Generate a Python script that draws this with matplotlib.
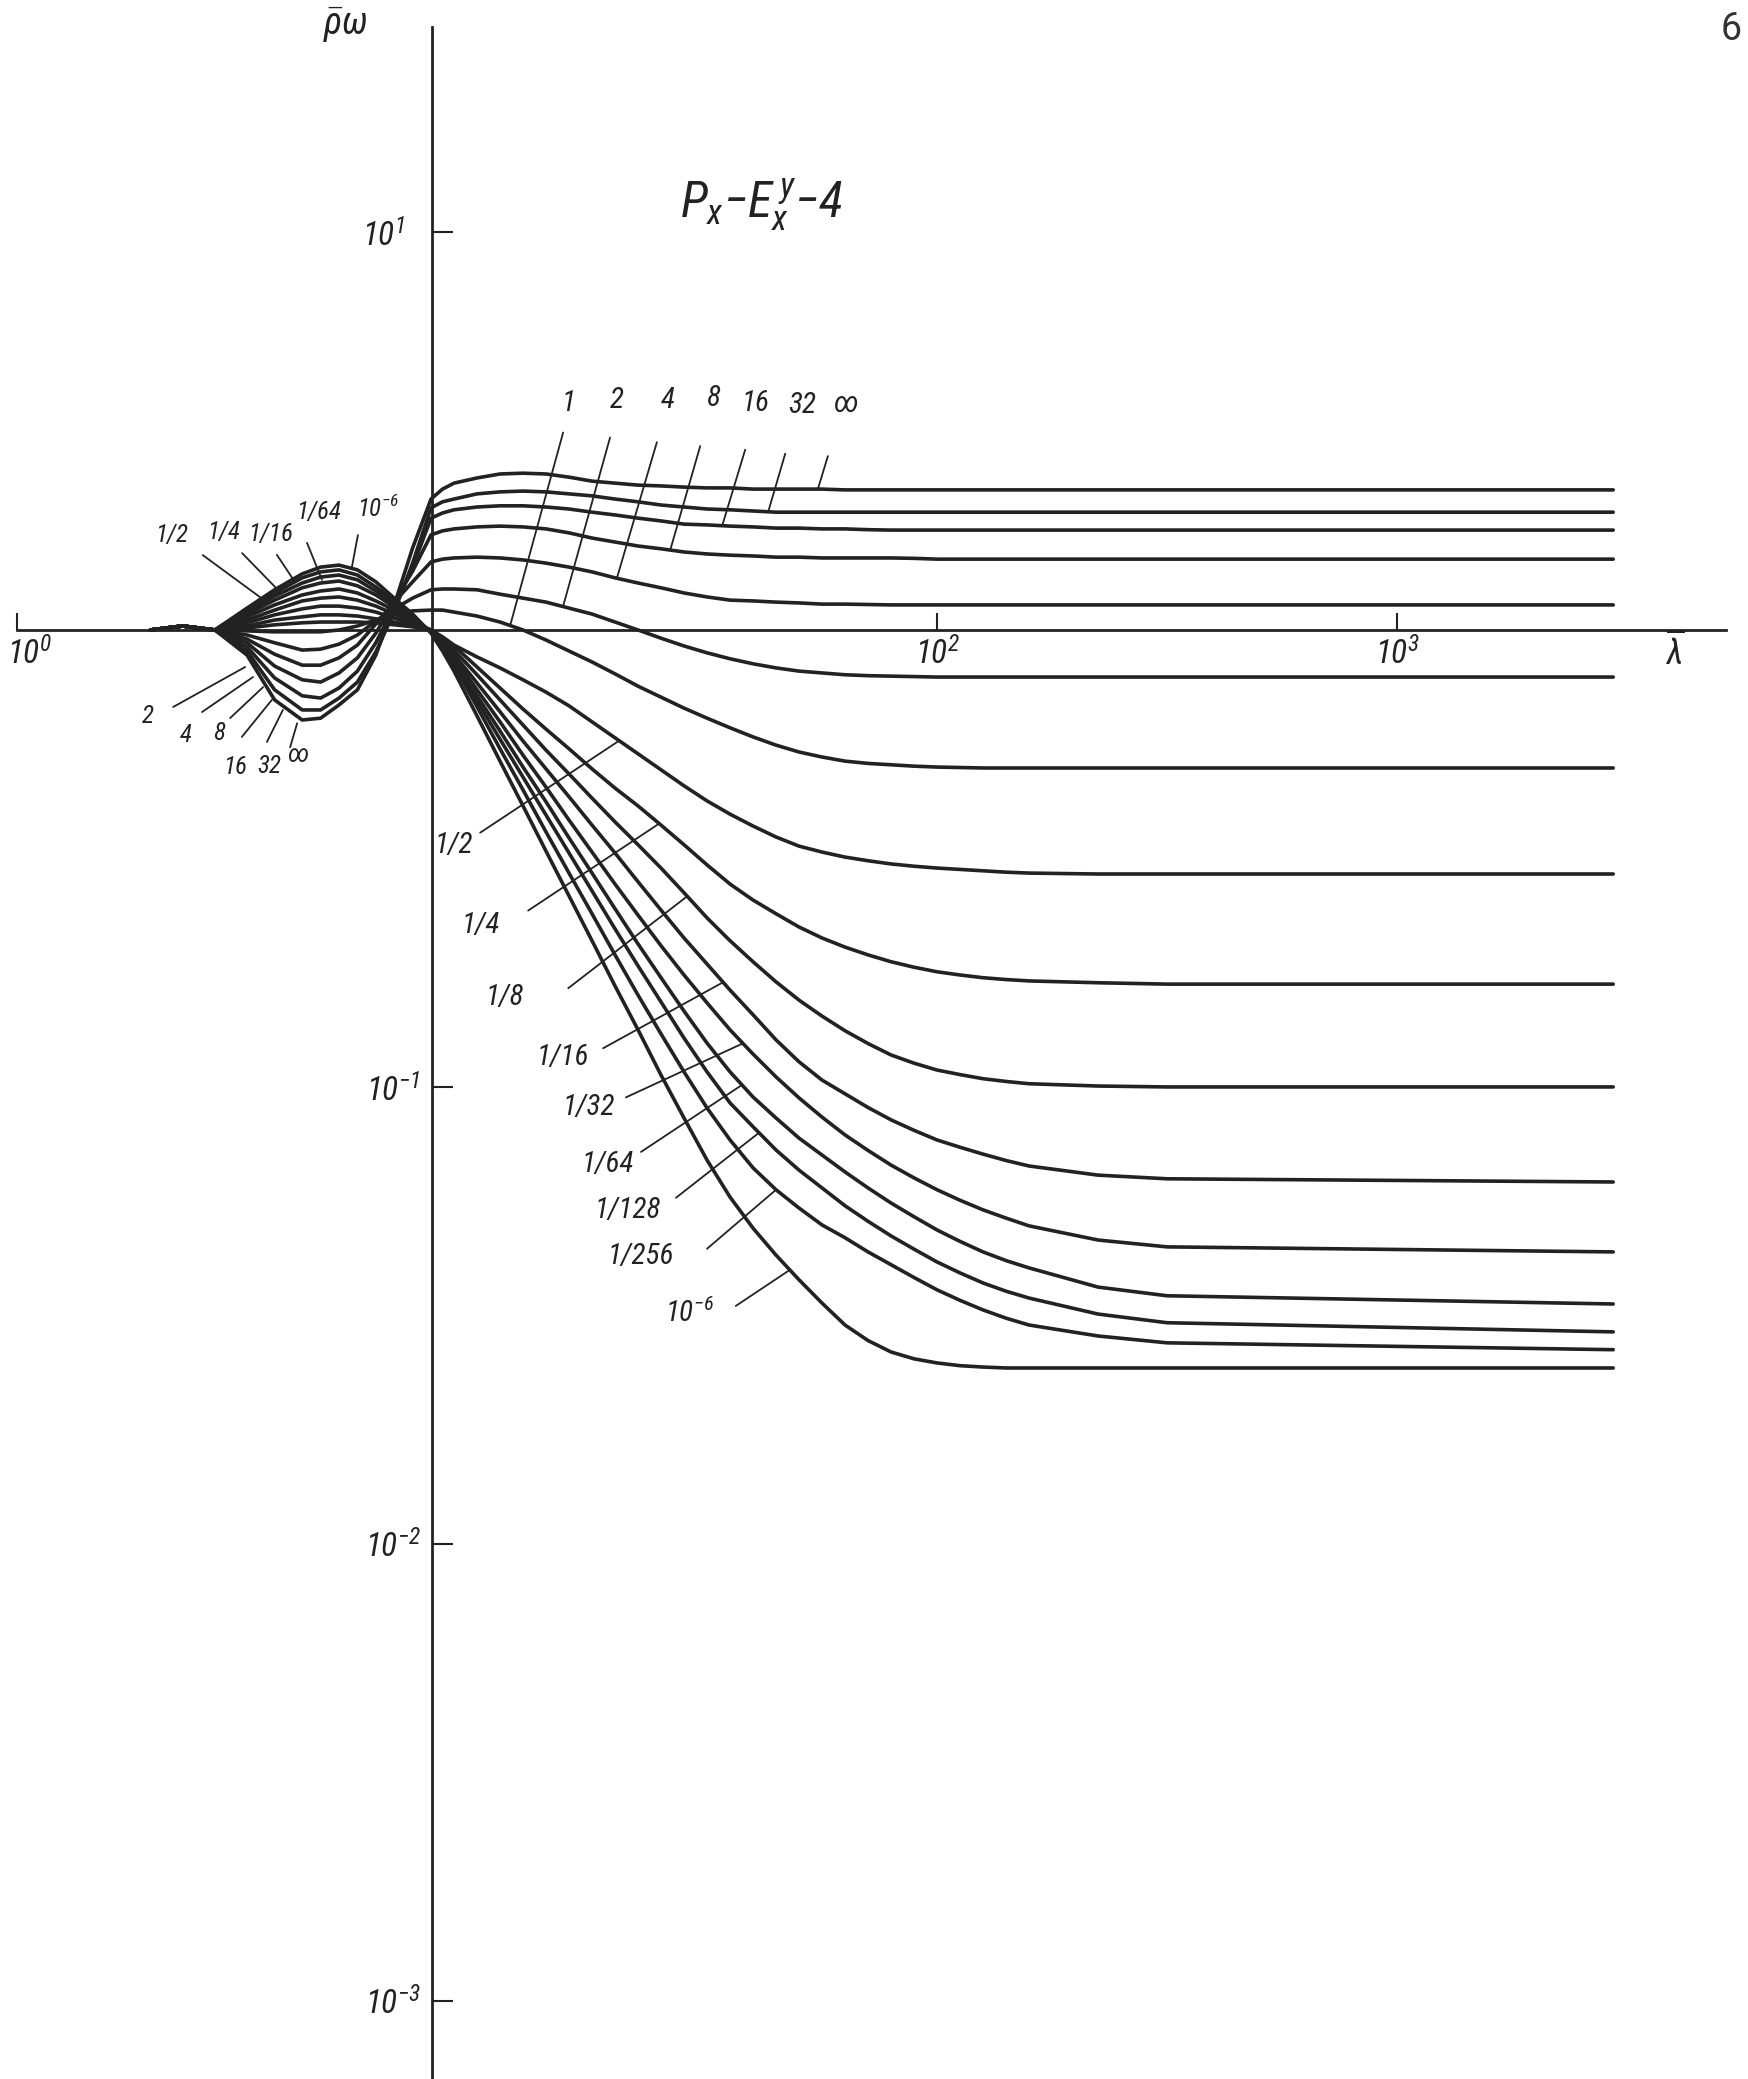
import numpy as np
import matplotlib.pyplot as plt
import matplotlib.lines as mlines
from matplotlib import font_manager
from matplotlib.ticker import NullLocator
from matplotlib.transforms import ScaledTranslation

_names = {f.name for f in font_manager.fontManager.ttflist}
FAM = next((n for n in ['Liberation Sans Narrow', 'Roboto Condensed', 'Liberation Sans']
            if n in _names), 'DejaVu Sans')

plt.rcParams['font.family'] = [FAM, 'DejaVu Sans']
plt.rcParams['font.style'] = 'italic'
plt.rcParams['mathtext.fontset'] = 'custom'
plt.rcParams['mathtext.rm'] = FAM + ':italic'
plt.rcParams['mathtext.it'] = FAM + ':italic'
plt.rcParams['mathtext.default'] = 'it'

INK = '#222222'

# log10(lambda) at which the curves were read
lam_exp = [0.29, 0.36, 0.43, 0.50, 0.56, 0.62, 0.66, 0.70, 0.74, 0.78, 0.82, 0.86, 0.90, 0.925,
           0.95, 1.00, 1.05, 1.10, 1.15, 1.20, 1.25, 1.30, 1.35, 1.40, 1.45, 1.50, 1.55,
           1.60, 1.65, 1.70, 1.75, 1.80, 1.85, 1.90, 1.95, 2.00, 2.05, 2.10, 2.15, 2.20,
           2.35, 2.50, 3.47]

# log10(rho_w) of each curve
rho_inf = [0, 0.010, 0, -0.055, -0.153, -0.197, -0.193, -0.164, -0.131, -0.055, 0.063, 0.206, 0.329,
           0.354, 0.369, 0.382, 0.392, 0.394, 0.392, 0.384, 0.374, 0.369, 0.364, 0.362, 0.359, 0.357,
           0.357, 0.354, 0.354, 0.354, 0.354, 0.352, 0.352, 0.352, 0.352, 0.352, 0.352, 0.352, 0.352,
           0.352, 0.352, 0.352, 0.352]
rho_32 = [0, 0.010, 0, -0.046, -0.131, -0.175, -0.175, -0.149, -0.114, -0.048, 0.045, 0.168, 0.307,
          0.322, 0.329, 0.342, 0.347, 0.349, 0.347, 0.342, 0.337, 0.329, 0.322, 0.314, 0.309, 0.304,
          0.302, 0.299, 0.296, 0.296, 0.296, 0.296, 0.296, 0.296, 0.296, 0.296, 0.296, 0.296, 0.296,
          0.296, 0.296, 0.296, 0.296]
rho_16 = [0, 0.010, 0, -0.037, -0.105, -0.144, -0.149, -0.127, -0.090, -0.028, 0.058, 0.158, 0.281,
          0.294, 0.302, 0.309, 0.312, 0.312, 0.309, 0.304, 0.296, 0.289, 0.281, 0.274, 0.266, 0.264,
          0.261, 0.259, 0.256, 0.256, 0.254, 0.254, 0.252, 0.251, 0.251, 0.251, 0.251, 0.251, 0.251,
          0.251, 0.251, 0.251, 0.251]
rho_8 = [0, 0.010, 0, -0.028, -0.079, -0.109, -0.114, -0.094, -0.061, -0.007, 0.070, 0.148, 0.239,
         0.249, 0.254, 0.259, 0.261, 0.259, 0.254, 0.244, 0.231, 0.221, 0.211, 0.204, 0.196, 0.191,
         0.188, 0.186, 0.183, 0.183, 0.181, 0.181, 0.181, 0.181, 0.180, 0.178, 0.178, 0.178, 0.178,
         0.178, 0.178, 0.178, 0.178]
rho_4 = [0, 0.010, 0, -0.020, -0.053, -0.077, -0.077, -0.061, -0.033, 0.015, 0.070, 0.121, 0.171,
         0.178, 0.181, 0.183, 0.181, 0.176, 0.168, 0.158, 0.146, 0.131, 0.118, 0.106, 0.093, 0.083,
         0.075, 0.073, 0.070, 0.068, 0.065, 0.065, 0.064, 0.063, 0.063, 0.063, 0.063, 0.063, 0.063,
         0.063, 0.063, 0.063, 0.063]
rho_2 = [0, 0.010, 0, -0.011, -0.028, -0.044, -0.042, -0.031, -0.011, 0.023, 0.053, 0.080, 0.101,
         0.103, 0.103, 0.101, 0.090, 0.080, 0.070, 0.055, 0.040, 0.020, 0, -0.018, -0.035, -0.050,
         -0.063, -0.074, -0.083, -0.090, -0.094, -0.098, -0.100, -0.101, -0.102, -0.103, -0.103,
         -0.103, -0.103, -0.103, -0.103, -0.103, -0.103]
rho_1 = [0, 0.010, 0, -0.002, -0.004, -0.004, -0.004, 0, 0.010, 0.025, 0.038, 0.048, 0.050,
         0.050, 0.045, 0.035, 0.020, 0, -0.022, -0.046, -0.070, -0.096, -0.123, -0.147, -0.171, -0.193,
         -0.214, -0.234, -0.252, -0.267, -0.278, -0.287, -0.292, -0.295, -0.298, -0.300, -0.301,
         -0.302, -0.302, -0.302, -0.302, -0.302, -0.302]
rho_1_2 = [0, 0.010, 0, 0.005, 0.013, 0.018, 0.020, 0.020, 0.020, 0.018, 0.013, 0.008, 0,
           -0.015, -0.033, -0.059, -0.083, -0.109, -0.136, -0.166, -0.201, -0.236, -0.271, -0.306, -0.341,
           -0.374, -0.403, -0.429, -0.453, -0.473, -0.486, -0.497, -0.505, -0.512, -0.517, -0.521,
           -0.524, -0.527, -0.530, -0.532, -0.534, -0.534, -0.534]
rho_1_4 = [0, 0.010, 0, 0.010, 0.025, 0.033, 0.038, 0.038, 0.035, 0.028, 0.020, 0.010, 0,
           -0.018, -0.035, -0.081, -0.127, -0.173, -0.217, -0.260, -0.304, -0.346, -0.385, -0.427, -0.470,
           -0.514, -0.556, -0.591, -0.621, -0.650, -0.674, -0.694, -0.711, -0.726, -0.738, -0.748,
           -0.755, -0.761, -0.765, -0.768, -0.772, -0.775, -0.775]
rho_1_8 = [0, 0.010, 0, 0.018, 0.038, 0.053, 0.060, 0.060, 0.055, 0.045, 0.030, 0.015, 0,
           -0.022, -0.044, -0.098, -0.153, -0.208, -0.263, -0.315, -0.368, -0.420, -0.470, -0.521, -0.575,
           -0.630, -0.680, -0.726, -0.770, -0.810, -0.845, -0.877, -0.905, -0.930, -0.948, -0.963,
           -0.973, -0.982, -0.988, -0.993, -0.998, -1.000, -1.000]
rho_1_16 = [0, 0.010, 0, 0.025, 0.050, 0.073, 0.080, 0.083, 0.075, 0.060, 0.040, 0.020, 0,
            -0.026, -0.053, -0.116, -0.179, -0.243, -0.304, -0.365, -0.427, -0.488, -0.551, -0.613, -0.674,
            -0.731, -0.788, -0.842, -0.897, -0.945, -0.985, -1.015, -1.045, -1.072, -1.095, -1.116,
            -1.132, -1.147, -1.161, -1.173, -1.193, -1.201, -1.208]
rho_1_32 = [0, 0.010, 0, 0.033, 0.063, 0.088, 0.098, 0.103, 0.093, 0.073, 0.050, 0.023, -0.002,
            -0.028, -0.059, -0.131, -0.201, -0.274, -0.344, -0.416, -0.486, -0.556, -0.624, -0.691, -0.755,
            -0.816, -0.875, -0.928, -0.978, -1.024, -1.066, -1.105, -1.139, -1.171, -1.199, -1.225,
            -1.248, -1.269, -1.287, -1.304, -1.335, -1.350, -1.361]
rho_1_64 = [0, 0.010, 0, 0.040, 0.075, 0.106, 0.118, 0.123, 0.111, 0.088, 0.058, 0.028, -0.003,
            -0.033, -0.066, -0.144, -0.221, -0.300, -0.376, -0.455, -0.532, -0.610, -0.687, -0.761, -0.834,
            -0.904, -0.967, -1.022, -1.068, -1.112, -1.149, -1.186, -1.221, -1.254, -1.284, -1.313,
            -1.338, -1.361, -1.380, -1.396, -1.438, -1.457, -1.475]
rho_1_128 = [0, 0.010, 0, 0.045, 0.085, 0.118, 0.133, 0.138, 0.126, 0.098, 0.065, 0.030, -0.004,
             -0.037, -0.072, -0.155, -0.239, -0.322, -0.405, -0.488, -0.571, -0.654, -0.735, -0.814, -0.893,
             -0.967, -1.035, -1.087, -1.138, -1.182, -1.221, -1.260, -1.294, -1.326, -1.355, -1.383,
             -1.407, -1.429, -1.447, -1.462, -1.497, -1.516, -1.536]
rho_1_256 = [0, 0.010, 0, 0.050, 0.093, 0.131, 0.146, 0.151, 0.138, 0.108, 0.073, 0.035, -0.005,
             -0.039, -0.077, -0.168, -0.260, -0.350, -0.442, -0.532, -0.621, -0.711, -0.799, -0.884, -0.967,
             -1.046, -1.116, -1.177, -1.225, -1.265, -1.302, -1.330, -1.361, -1.389, -1.417, -1.444,
             -1.467, -1.488, -1.506, -1.521, -1.545, -1.560, -1.575]
rho_1e6 = [0, 0.010, 0, 0.055, 0.101, 0.141, 0.158, 0.163, 0.151, 0.121, 0.080, 0.040, -0.007,
           -0.046, -0.090, -0.188, -0.287, -0.385, -0.484, -0.582, -0.680, -0.779, -0.875, -0.974, -1.068,
           -1.160, -1.241, -1.309, -1.368, -1.422, -1.473, -1.521, -1.555, -1.580, -1.595, -1.604,
           -1.610, -1.613, -1.615, -1.615, -1.615, -1.615, -1.615]

curves = [rho_inf, rho_32, rho_16, rho_8, rho_4, rho_2, rho_1, rho_1_2, rho_1_4, rho_1_8,
          rho_1_16, rho_1_32, rho_1_64, rho_1_128, rho_1_256, rho_1e6]

x_ticks = [1, 100, 1000]
x_tick_labels = [r'$10^{0}$', r'$10^{2}$', r'$10^{3}$']
y_ticks = [10, 0.1, 0.01, 0.001]
y_tick_labels = [r'$10^{1}$', r'$10^{-1}$', r'$10^{-2}$', r'$10^{-3}$']

# the upper decade of the sheet is drawn a little shorter than the others
K_UP = 398 / 457


def fwd(y):
    e = np.log10(np.clip(y, 1e-12, None))
    return np.where(e > 0, e * K_UP, e)


def inv(u):
    return 10 ** np.where(u > 0, u / K_UP, u)


fig = plt.figure(figsize=(17.48, 20.79), dpi=100)
ax = fig.add_axes([0, 0, 1, 1])
ax.set_xscale('log')
ax.set_yscale('function', functions=(fwd, inv))
ax.set_xlim(10 ** -0.037, 10 ** 3.763)
ax.set_ylim(10 ** -3.171, 10 ** 1.583)

lam = 10 ** np.array(lam_exp)
for c in curves:
    ax.plot(lam, 10 ** np.array(c), color=INK, lw=2.6, solid_joinstyle='round',
            solid_capstyle='round')

# axes drawn as crossing lines, like the original sheet
for side in ['top', 'right']:
    ax.spines[side].set_visible(False)
ax.spines['left'].set_position(('data', 10 ** 0.902))
ax.spines['left'].set_bounds(10 ** -3.171, 10 ** 1.515)
ax.spines['bottom'].set_position(('data', 1.0))
ax.spines['bottom'].set_bounds(1.0, 10 ** 3.715)
for side in ['left', 'bottom']:
    ax.spines[side].set_color(INK)
    ax.spines[side].set_linewidth(2.0)

ax.set_xticks(x_ticks)
ax.set_xticklabels(x_tick_labels)
ax.set_yticks(y_ticks)
ax.set_yticklabels(y_tick_labels)
ax.xaxis.set_minor_locator(NullLocator())
ax.yaxis.set_minor_locator(NullLocator())
ax.tick_params(axis='x', direction='in', length=12, width=1.5, pad=5, labelsize=24,
               colors=INK)
ax.tick_params(axis='y', direction='in', length=15, width=1.5, pad=8, labelsize=24,
               colors=INK)

# the 10^1 mark points outwards on the sheet
t10 = ax.yaxis.get_major_ticks()[0]
t10.tick1line.set_marker(mlines.TICKLEFT)
t10.set_pad(19)
# 10^0 label sits just right of its tick
lab0 = ax.get_xticklabels()[0]
lab0.set_horizontalalignment('left')
lab0.set_transform(lab0.get_transform() + ScaledTranslation(-0.10, 0, fig.dpi_scale_trans))


def tag(text, t, where, far, off, size=21):
    # where: a curve (tip sits on it) or a fixed log10(rho) for the tip
    px_ = 10 ** t
    if isinstance(where, list):
        py_ = 10 ** np.interp(t, lam_exp, where)
    else:
        py_ = 10 ** where
    ax.annotate('', xy=(px_, py_), xytext=far, textcoords='offset pixels',
                arrowprops=dict(arrowstyle='-', lw=1.3, color=INK, shrinkA=0, shrinkB=0))
    ax.annotate(text, xy=(px_, py_), xytext=off, textcoords='offset pixels',
                ha='center', va='center', fontsize=size, color=INK)


# text, tip log10(lambda), curve or tip log10(rho), leader end (px), label (px)
tags_right = [
    ('1', 1.072, rho_1, (53, 193), (58, 223)),
    ('2', 1.187, rho_2, (47, 169), (54, 207)),
    ('4', 1.304, rho_4, (40, 136), (51, 178)),
    ('8', 1.420, rho_8, (30, 104), (43, 152)),
    ('16', 1.533, rho_16, (23, 76), (33, 123)),
    ('32', 1.633, rho_32, (17, 58), (34, 107)),
    ('∞', 1.741, rho_inf, (10, 33), (28, 85)),
    ('1/2', 1.309, rho_1_2, (-139, -92), (-165, -104)),
    ('1/4', 1.396, rho_1_4, (-131, -87), (-178, -101)),
    ('1/8', 1.457, rho_1_8, (-119, -92), (-182, -101)),
    ('1/16', 1.535, rho_1_16, (-120, -66), (-160, -75)),
    ('1/32', 1.578, rho_1_32, (-117, -54), (-154, -64)),
    ('1/64', 1.576, rho_1_64, (-101, -67), (-134, -79)),
    ('1/128', 1.613, rho_1_128, (-83, -65), (-131, -77)),
    ('1/256', 1.650, rho_1_256, (-69, -59), (-135, -66)),
    (r'$10^{-6}$', 1.680, rho_1e6, (-54, -36), (-100, -43)),
]
tags_left = [
    ('1/2', 0.543, 0.070, (-64, 47), (-95, 67)),
    ('1/4', 0.572, 0.095, (-38, 39), (-57, 60)),
    ('1/16', 0.604, 0.121, (-18, 27), (-24, 48)),
    ('1/64', 0.663, 0.126, (-15, 37), (-3, 68)),
    (r'$10^{-6}$', 0.728, 0.158, (6, 32), (26, 58)),
    ('2', 0.496, -0.081, (-72, -40), (-97, -49)),
    ('4', 0.513, -0.103, (-51, -35), (-67, -58)),
    ('8', 0.535, -0.125, (-33, -31), (-44, -46)),
    ('16', 0.554, -0.153, (-30, -37), (-37, -67)),
    ('32', 0.578, -0.175, (-16, -32), (-14, -56)),
    ('∞', 0.609, -0.204, (-7, -24), (1, -32)),
]
for t in tags_right:
    tag(*t)
for t in tags_left:
    tag(*t, size=18)

W, H = 1748, 2079
fig.text(345 / W, 1 - 24 / H, r'$\bar{\rho}\omega$', fontsize=27, color=INK,
         ha='center', va='center')
fig.text(1675 / W, 1 - 652 / H, r'$\overline{\lambda}$', fontsize=25, color=INK,
         ha='center', va='center')
fig.text(762 / W, 1 - 205 / H, r'$P_x{-}E_x^{\,y}{-}4$', fontsize=36, color=INK,
         ha='center', va='center')
fig.text(1731 / W, 1 - 30 / H, '6', fontsize=27, color='#333333', family='Roboto',
         style='normal', ha='center', va='center')

fig.savefig('out.png', dpi=100, facecolor='white')
